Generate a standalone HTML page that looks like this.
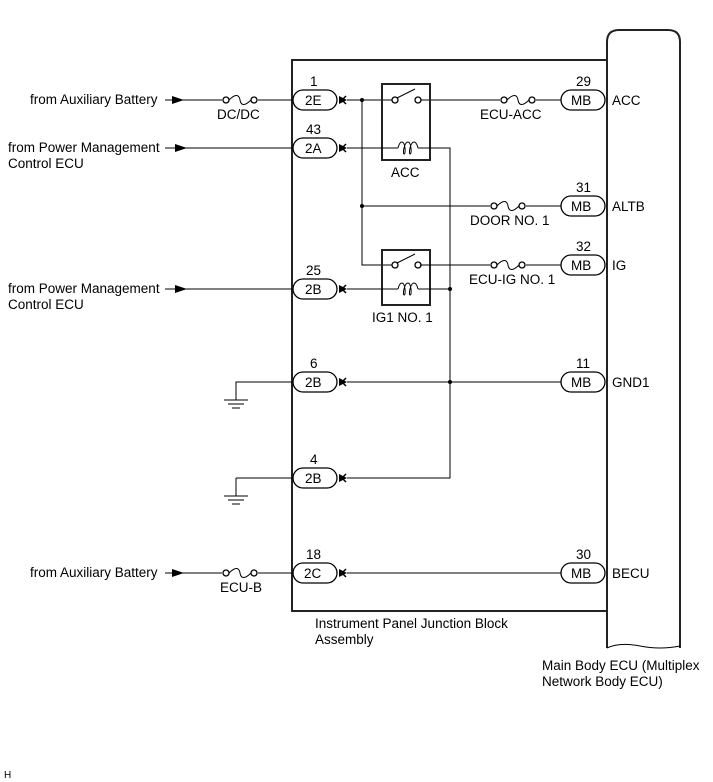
<!DOCTYPE html>
<html><head><meta charset="utf-8"><style>
html,body{margin:0;padding:0;background:#fff;}
svg{display:block;}
text{font-family:"Liberation Sans",Arial,sans-serif;font-size:13.5px;fill:#000;}
.w{stroke:#000;stroke-width:1;fill:none;}
.b{stroke:#222;stroke-width:2;fill:none;}
.p{stroke:#000;stroke-width:1.3;fill:#fff;}
</style></head><body>
<svg width="713" height="782" viewBox="0 0 713 782" xmlns="http://www.w3.org/2000/svg">
<defs>
<g id="lp"><rect x="0" y="-10" width="44" height="20" rx="10" class="p"/><path d="M46,-4 L54,0 L46,4 Z" fill="#000"/><path d="M53,-4 L49,0 L53,4" stroke="#000" stroke-width="1.5" fill="none"/></g>
<g id="rp"><rect x="0" y="-10" width="44" height="20" rx="10" class="p"/></g>
<g id="fuse"><circle cx="0" cy="0" r="3" class="p"/><circle cx="28" cy="0" r="3" class="p"/><path d="M3,0 C9,-6 13,-6 14,0 C15,6 19,6 25,0" class="w"/></g>
<g id="gnd"><path d="M0,0 V18 M-12,18 H12 M-8,22 H8 M-4,26 H4" class="w"/></g>
<g id="arr"><path d="M0,-4 L12,0 L0,4 Z" fill="#000"/></g>
</defs>

<rect x="292" y="60" width="315" height="551" class="b"/>
<path d="M607,648 V42 Q607,30 619,30 H668 Q680,30 680,42 V648" class="b"/>
<path d="M607,648 Q620,642 640,646 Q660,650 680,646" class="w"/>

<text x="30" y="104">from Auxiliary Battery</text>
<line x1="165" y1="100" x2="293" y2="100" class="w"/>
<use href="#arr" x="172" y="100"/>
<rect x="222" y="96" width="36" height="8" fill="#fff"/>
<use href="#fuse" x="226" y="100"/>
<text x="217" y="119">DC/DC</text>
<text x="310" y="86">1</text>
<use href="#lp" x="293" y="100"/>
<line x1="347" y1="100" x2="392" y2="100" class="w"/>
<circle cx="362" cy="100" r="2" fill="#000"/>
<line x1="420" y1="100" x2="561" y2="100" class="w"/>
<rect x="500" y="95" width="36" height="10" fill="#fff"/>
<use href="#fuse" x="504" y="100"/>
<text x="480" y="119">ECU-ACC</text>
<text x="576" y="86">29</text>
<use href="#rp" x="561" y="100"/>
<text x="571" y="105">MB</text>
<text x="612" y="105">ACC</text>
<text x="305" y="105">2E</text>

<rect x="382" y="84" width="48" height="76" class="b"/>
<circle cx="395" cy="100" r="3" class="p"/><circle cx="418" cy="100" r="3" class="p"/>
<line x1="397" y1="98" x2="415" y2="89" class="w"/>
<path d="M398,148 C400,140 404,140 405,148 C406,156 402,156 404,148 C406,140 410,140 411,148 C412,156 408,156 410,148 C412,140 416,140 418,148" class="w"/>
<text x="391" y="177">ACC</text>

<text x="8" y="152">from Power Management</text>
<text x="8" y="168">Control ECU</text>
<line x1="165" y1="148" x2="293" y2="148" class="w"/>
<use href="#arr" x="175" y="148"/>
<text x="306" y="134">43</text>
<use href="#lp" x="293" y="148"/>
<text x="305" y="153">2A</text>
<line x1="347" y1="148" x2="398" y2="148" class="w"/>
<polyline points="418,148 450,148 450,478 347,478" class="w"/>

<polyline points="362,100 362,265 395,265" class="w"/>
<circle cx="362" cy="206" r="2" fill="#000"/>
<line x1="362" y1="206" x2="561" y2="206" class="w"/>
<rect x="490" y="201" width="36" height="10" fill="#fff"/>
<use href="#fuse" x="494" y="206"/>
<text x="470" y="225">DOOR NO. 1</text>
<text x="576" y="192">31</text>
<use href="#rp" x="561" y="206"/>
<text x="571" y="211">MB</text>
<text x="612" y="211">ALTB</text>

<rect x="382" y="250" width="48" height="55" class="b"/>
<circle cx="395" cy="265" r="3" class="p"/><circle cx="418" cy="265" r="3" class="p"/>
<line x1="397" y1="263" x2="415" y2="254" class="w"/>
<path d="M398,289 C400,281 404,281 405,289 C406,297 402,297 404,289 C406,281 410,281 411,289 C412,297 408,297 410,289 C412,281 416,281 418,289" class="w"/>
<text x="372" y="322">IG1 NO. 1</text>
<line x1="420" y1="265" x2="561" y2="265" class="w"/>
<rect x="490" y="260" width="36" height="10" fill="#fff"/>
<use href="#fuse" x="494" y="265"/>
<text x="469" y="284">ECU-IG NO. 1</text>
<text x="576" y="251">32</text>
<use href="#rp" x="561" y="265"/>
<text x="571" y="270">MB</text>
<text x="612" y="270">IG</text>

<text x="8" y="293">from Power Management</text>
<text x="8" y="309">Control ECU</text>
<line x1="165" y1="289" x2="293" y2="289" class="w"/>
<use href="#arr" x="175" y="289"/>
<text x="306" y="275">25</text>
<use href="#lp" x="293" y="289"/>
<text x="305" y="294">2B</text>
<line x1="347" y1="289" x2="398" y2="289" class="w"/>
<line x1="418" y1="289" x2="450" y2="289" class="w"/>
<circle cx="450" cy="289" r="2" fill="#000"/>

<polyline points="236,400 236,382 293,382" class="w"/>
<use href="#gnd" x="236" y="382"/>
<text x="310" y="368">6</text>
<use href="#lp" x="293" y="382"/>
<text x="305" y="387">2B</text>
<line x1="347" y1="382" x2="561" y2="382" class="w"/>
<circle cx="450" cy="382" r="2" fill="#000"/>
<text x="576" y="368">11</text>
<use href="#rp" x="561" y="382"/>
<text x="571" y="387">MB</text>
<text x="612" y="387">GND1</text>

<polyline points="236,478 293,478" class="w"/>
<use href="#gnd" x="236" y="478"/>
<text x="310" y="464">4</text>
<use href="#lp" x="293" y="478"/>
<text x="305" y="483">2B</text>

<text x="30" y="577">from Auxiliary Battery</text>
<line x1="165" y1="573" x2="293" y2="573" class="w"/>
<use href="#arr" x="172" y="573"/>
<rect x="222" y="568" width="36" height="10" fill="#fff"/>
<use href="#fuse" x="226" y="573"/>
<text x="220" y="592">ECU-B</text>
<text x="306" y="559">18</text>
<use href="#lp" x="293" y="573"/>
<text x="304" y="578">2C</text>
<line x1="347" y1="573" x2="561" y2="573" class="w"/>
<text x="576" y="559">30</text>
<use href="#rp" x="561" y="573"/>
<text x="571" y="578">MB</text>
<text x="612" y="578">BECU</text>

<text x="315" y="628">Instrument Panel Junction Block</text>
<text x="315" y="644">Assembly</text>
<text x="542" y="670">Main Body ECU (Multiplex</text>
<text x="542" y="686">Network Body ECU)</text>
<text x="4" y="778" style="font-size:10px">H</text>
</svg>
</body></html>
